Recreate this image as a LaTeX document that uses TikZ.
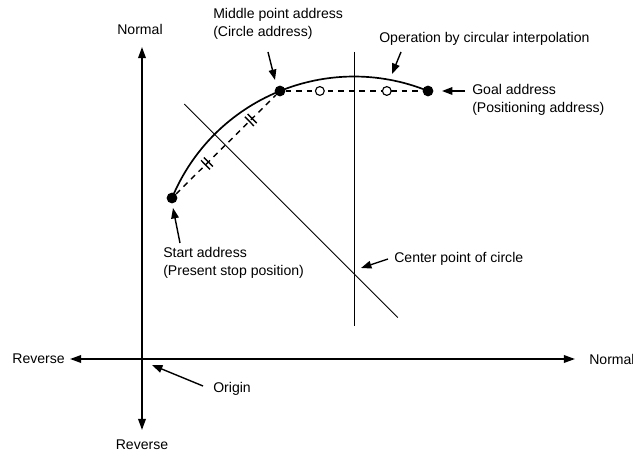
\documentclass[tikz,border=0pt]{standalone}
\usepackage{fontspec}
\setmainfont{Liberation Sans}
\usetikzlibrary{arrows.meta,decorations.markings}

\newcommand{\eqtick}{\draw[solid,line width=1pt] (-0.05,-0.16) -- (-0.05,0.16) (0.05,-0.16) -- (0.05,0.16);}

\begin{document}
\begin{tikzpicture}[font=\fontsize{10}{12.8}\selectfont,
  axis/.style={line width=1.3pt,{Triangle[length=2.8mm,width=1.9mm]}-{Triangle[length=2.8mm,width=1.9mm]}},
  callout/.style={line width=1pt,-{Triangle[length=2.6mm,width=1.9mm]}},
  guide/.style={line width=0.6pt},
  dot/.style={circle,fill,inner sep=0pt,minimum size=2.7mm},
  hollow/.style={circle,draw,solid,fill=white,line width=0.8pt,inner sep=0pt,minimum size=2.2mm},
  chord/.style={line width=1pt,dash pattern=on 4pt off 3.5pt},
  ticks/.style={postaction={decorate,decoration={markings,
    mark=at position 0.31 with {\eqtick},mark=at position 0.75 with {\eqtick}}}},
  lbl/.style={inner sep=0pt,align=left,anchor=west}]
\useasboundingbox (-3.55,-2.4) rectangle (12.275,8.975);

% axes
\coordinate (xl) at (-1.8,0);
\coordinate (xr) at (10.825,0);
\coordinate (yt) at (0,7.8);
\coordinate (yb) at (0,-1.775);
\draw[axis] (xl) -- (xr);
\draw[axis] (yb) -- (yt);
\node[inner sep=0pt,anchor=east] (xrev) at (-1.925,0) {Reverse};
\node[lbl] (xnorm) at (11.175,0) {Normal};
\node[inner sep=0pt] (ynorm) at (-0.05,8.25) {Normal};
\node[inner sep=0pt] (yrev) at (0,-2.15) {Reverse};

% circle construction
\coordinate (ctr) at (5.3,2.133);
\draw[guide] (5.3,7.675) -- (5.3,0.825);
\draw[guide] ([shift={(135:6)}]ctr) -- ([shift={(-45:1.55)}]ctr);

\node[dot] (start) at ([shift={(157.42:4.928)}]ctr) {};
\node[dot] (mid) at ([shift={(112.05:4.928)}]ctr) {};
\node[dot] (goal) at ([shift={(67.95:4.928)}]ctr) {};
\draw[line width=1.2pt] (start.center) arc[start angle=157.42,end angle=67.95,radius=4.928];
\draw[chord,ticks] (start) -- (mid);
\draw[chord] (mid) -- node[hollow,pos=0.25] (ring1) {} node[hollow,pos=0.74] (ring2) {} (goal);

% labels
\node[lbl] (lblmid) at (1.775,8.375) {Middle point address\\(Circle address)};
\node[lbl] (lblop) at (5.925,8.0) {Operation by circular interpolation};
\node[lbl] (lblgoal) at (8.25,6.47) {Goal address\\(Positioning address)};
\node[lbl] (lblctr) at (6.3,2.5) {Center point of circle};
\node[lbl] (lblstart) at (0.525,2.41) {Start address\\(Present stop position)};
\node[lbl] (lblorg) at (1.775,-0.75) {Origin};

\coordinate (amid) at (3.15,7.675);
\coordinate (bmid) at (3.325,6.975);
\coordinate (aop) at (6.475,7.675);
\coordinate (bop) at (6.25,7.125);
\coordinate (agoal) at (8.075,6.7);
\coordinate (bgoal) at (7.5,6.7);
\coordinate (actr) at (6.15,2.5);
\coordinate (bctr) at (5.475,2.275);
\coordinate (astart) at (0.95,2.9);
\coordinate (bstart) at (0.775,3.775);
\coordinate (aorg) at (1.525,-0.675);
\coordinate (borg) at (0.25,-0.15);
\draw[callout] (amid) -- (bmid);
\draw[callout] (aop) -- (bop);
\draw[callout] (agoal) -- (bgoal);
\draw[callout] (actr) -- (bctr);
\draw[callout] (astart) -- (bstart);
\draw[callout] (aorg) -- (borg);
\end{tikzpicture}
\end{document}
